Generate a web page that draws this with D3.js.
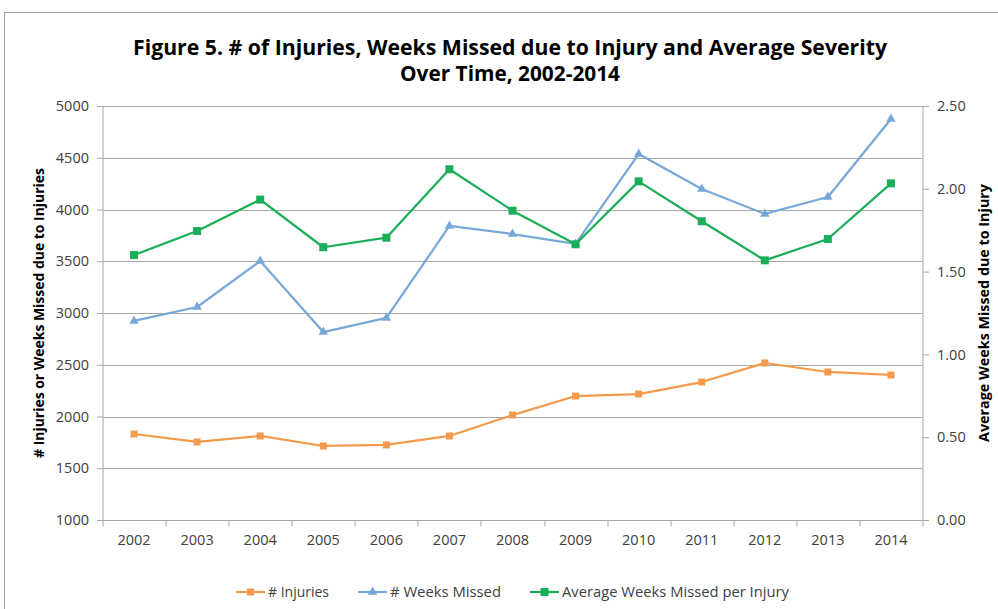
<!DOCTYPE html>
<html>
<head>
<meta charset="utf-8">
<script src="https://cdn.jsdelivr.net/npm/d3@7"></script>
<style>
  body { margin: 0; background: #fff; }
  svg { font-family: "Open Sans", "Noto Sans", sans-serif; }
</style>
</head>
<body>
<div id="chart"></div>
<script>
// data
var years = ["2002", "2003", "2004", "2005", "2006", "2007", "2008", "2009", "2010", "2011", "2012", "2013", "2014"];
var injuries = [1831, 1754, 1812, 1715, 1725, 1812, 2014, 2198, 2217, 2333, 2517, 2430, 2401];
var weeksMissed = [2923, 3058, 3502, 2816, 2952, 3841, 3763, 3667, 4536, 4198, 3957, 4121, 4874];
var avgWeeks = [1.60, 1.745, 1.935, 1.647, 1.705, 2.118, 1.868, 1.665, 2.045, 1.804, 1.568, 1.697, 2.033];
var leftTicks = [1000, 1500, 2000, 2500, 3000, 3500, 4000, 4500, 5000];
var rightTicks = [0, 0.5, 1, 1.5, 2, 2.5];

var W = 998, H = 609;
var margin = { top: 106, right: 75, bottom: 89, left: 102.5 };
var plotW = W - margin.left - margin.right - 0.5;
var plotH = H - margin.top - margin.bottom - 0;

var svg = d3.select("#chart").append("svg")
    .attr("width", W)
    .attr("height", H);

// outer chart frame
svg.append("rect")
    .attr("x", 4.5).attr("y", 12.5)
    .attr("width", W + 20).attr("height", H + 20)
    .attr("fill", "none")
    .attr("stroke", "#a0a0a0")
    .attr("stroke-width", 1);

// title
var title = svg.append("g").attr("font-weight", "bold").attr("fill", "#000").attr("text-anchor", "middle");
title.append("text")
    .attr("x", 510).attr("y", 55)
    .attr("font-size", 21)
    .attr("textLength", 754).attr("lengthAdjust", "spacingAndGlyphs")
    .text("Figure 5. # of Injuries, Weeks Missed due to Injury and Average Severity");
title.append("text")
    .attr("x", 510).attr("y", 81)
    .attr("font-size", 21)
    .attr("textLength", 220).attr("lengthAdjust", "spacingAndGlyphs")
    .text("Over Time, 2002-2014");

var g = svg.append("g").attr("transform", "translate(" + margin.left + "," + margin.top + ")");

var x = d3.scaleBand().domain(years).range([0, plotW]);
var yL = d3.scaleLinear().domain([1000, 5000]).range([plotH, 0]);
var yR = d3.scaleLinear().domain([0, 2.5]).range([plotH, 0]);

// gridlines
g.append("g").selectAll("line")
    .data(leftTicks.slice(1))
    .enter().append("line")
    .attr("x1", 0).attr("x2", plotW)
    .attr("y1", function(d) { return Math.round(yL(d)) + 0.5; })
    .attr("y2", function(d) { return Math.round(yL(d)) + 0.5; })
    .attr("stroke", "#a6a6a6")
    .attr("stroke-width", 1.2);

// axes
var leftAxis = g.append("g")
    .attr("transform", "translate(0.5,0)")
    .call(d3.axisLeft(yL).tickValues(leftTicks).tickSize(6).tickPadding(8).tickFormat(d3.format("d")));
var rightAxis = g.append("g")
    .attr("transform", "translate(" + (plotW + 0.5) + ",0)")
    .call(d3.axisRight(yR).tickValues(rightTicks).tickSize(6).tickPadding(8).tickFormat(d3.format(".2f")));
var bottomAxis = g.append("g")
    .attr("transform", "translate(0," + (plotH + 0.5) + ")")
    .call(d3.axisBottom(x).tickSize(0).tickPadding(14));

[leftAxis, rightAxis, bottomAxis].forEach(function(a) {
    a.selectAll("path").attr("stroke", "#a6a6a6");
    a.selectAll("line").attr("stroke", "#a6a6a6");
    a.selectAll("text").attr("fill", "#404040").attr("font-size", 14.5)
        .attr("font-family", "'Open Sans', 'Noto Sans', sans-serif");
});
leftAxis.select(".domain").attr("d", "M0," + plotH + "V0");
rightAxis.select(".domain").attr("d", "M0," + plotH + "V0");
bottomAxis.select(".domain").attr("d", "M0,0H" + plotW);

// category boundary ticks on x axis
bottomAxis.append("g").selectAll("line")
    .data(d3.range(years.length + 1))
    .enter().append("line")
    .attr("x1", function(i) { return Math.round(i * x.step()) + 0.5; })
    .attr("x2", function(i) { return Math.round(i * x.step()) + 0.5; })
    .attr("y1", 0).attr("y2", 6)
    .attr("stroke", "#a6a6a6");

// axis titles
svg.append("text")
    .attr("transform", "translate(44," + (margin.top + plotH / 2) + ") rotate(-90)")
    .attr("text-anchor", "middle")
    .attr("font-weight", "bold")
    .attr("font-size", 14)
    .attr("textLength", 290).attr("lengthAdjust", "spacingAndGlyphs")
    .text("# Injuries or Weeks Missed due to Injuries");
svg.append("text")
    .attr("transform", "translate(989," + (margin.top + plotH / 2) + ") rotate(-90)")
    .attr("text-anchor", "middle")
    .attr("font-weight", "bold")
    .attr("font-size", 14)
    .attr("textLength", 258).attr("lengthAdjust", "spacingAndGlyphs")
    .text("Average Weeks Missed due to Injury");

var cx = function(d, i) { return x(years[i]) + x.bandwidth() / 2; };

var series = [
    { name: "# Injuries", values: injuries, scale: yL, color: "#f39a4c", marker: "square", size: 7 },
    { name: "# Weeks Missed", values: weeksMissed, scale: yL, color: "#78a8d8", marker: "triangle", size: 8 },
    { name: "Average Weeks Missed per Injury", values: avgWeeks, scale: yR, color: "#1aae59", marker: "square", size: 8 }
];

function markerPath(type, s) {
    if (type === "square") return d3.symbol().type(d3.symbolSquare).size(s * s)();
    return d3.symbol().type(d3.symbolTriangle).size(s * s * 0.6)();
}

// draw blue first, then orange, then green on top
[series[1], series[0], series[2]].forEach(function(s) {
    var line = d3.line()
        .x(cx)
        .y(function(d) { return s.scale(d); });
    g.append("path")
        .datum(s.values)
        .attr("fill", "none")
        .attr("stroke", s.color)
        .attr("stroke-width", 2.25)
        .attr("stroke-linejoin", "round")
        .attr("d", line);
    g.append("g").selectAll("path")
        .data(s.values)
        .enter().append("path")
        .attr("d", markerPath(s.marker, s.size))
        .attr("transform", function(d, i) { return "translate(" + cx(d, i) + "," + s.scale(d) + ")"; })
        .attr("fill", s.color);
});

// legend
var legendPos = [236, 358, 530];
var legendLen = [61, 111, 227];
var legend = svg.append("g").attr("transform", "translate(0,592)");
series.forEach(function(s, i) {
    var lg = legend.append("g").attr("transform", "translate(" + legendPos[i] + ",0)");
    lg.append("line")
        .attr("x1", 0).attr("x2", 29)
        .attr("stroke", s.color).attr("stroke-width", 2.25);
    lg.append("path")
        .attr("d", markerPath(s.marker, s.size))
        .attr("transform", "translate(14.5,0)")
        .attr("fill", s.color);
    lg.append("text")
        .attr("x", 32).attr("y", 5)
        .attr("font-size", 14.5)
        .attr("fill", "#404040")
        .attr("textLength", legendLen[i]).attr("lengthAdjust", "spacingAndGlyphs")
        .text(s.name);
});
</script>
</body>
</html>
